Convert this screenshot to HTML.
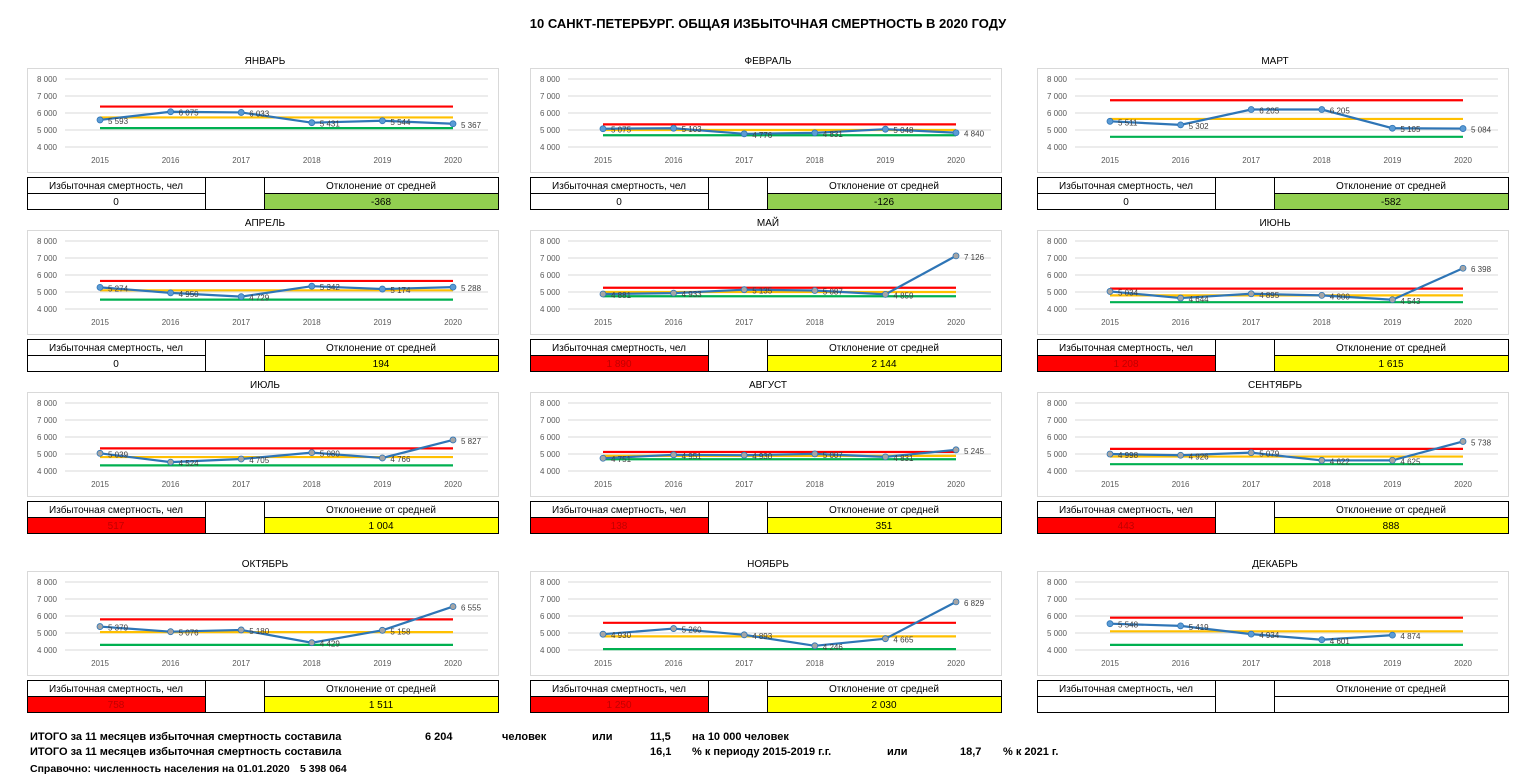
<!DOCTYPE html>
<html><head><meta charset="utf-8">
<style>
html,body{margin:0;padding:0;background:#fff;width:1524px;height:779px;overflow:hidden}
svg{display:block;font-family:"Liberation Sans","DejaVu Sans",sans-serif}
</style></head>
<body>
<svg id="s" width="1524" height="779" xmlns="http://www.w3.org/2000/svg">
<text x="768" y="28" font-size="13" font-weight="bold" text-anchor="middle" fill="#000">10 САНКТ-ПЕТЕРБУРГ. ОБЩАЯ ИЗБЫТОЧНАЯ СМЕРТНОСТЬ  В 2020 ГОДУ</text>
<g font-size="11" font-weight="bold" fill="#000">
<text x="30" y="740">ИТОГО за 11 месяцев избыточная смертность составила</text>
<text x="425" y="740">6 204</text>
<text x="502" y="740">человек</text>
<text x="592" y="740">или</text>
<text x="650" y="740">11,5</text>
<text x="692" y="740">на 10 000 человек</text>
<text x="30" y="755">ИТОГО за 11 месяцев избыточная смертность составила</text>
<text x="650" y="755">16,1</text>
<text x="692" y="755">% к периоду 2015-2019 г.г.</text>
<text x="887" y="755">или</text>
<text x="960" y="755">18,7</text>
<text x="1003" y="755">% к 2021 г.</text>
<text x="30" y="772" font-size="10.5">Справочно: численность населения на 01.01.2020</text>
<text x="300" y="772" font-size="10.5">5 398 064</text>
</g>
</svg>
<script>
const M=[
["ЯНВАРЬ",[5593,6075,6033,5431,5544,5367],6380,5740,5110,"0","#fff","-368","#92d050"],
["ФЕВРАЛЬ",[5075,5103,4776,4831,5048,4840],5330,5000,4690,"0","#fff","-126","#92d050"],
["МАРТ",[5511,5302,6205,6205,5105,5084],6750,5650,4600,"0","#fff","-582","#92d050"],
["АПРЕЛЬ",[5274,4950,4729,5342,5174,5288],5650,5100,4550,"0","#fff","194","#ffff00"],
["МАЙ",[4881,4933,5135,5087,4859,7126],5250,5000,4750,"1 890","#ff0000","2 144","#ffff00"],
["ИЮНЬ",[5034,4644,4895,4800,4543,6398],5200,4800,4400,"1 208","#ff0000","1 615","#ffff00"],
["ИЮЛЬ",[5039,4524,4705,5080,4766,5827],5330,4820,4330,"517","#ff0000","1 004","#ffff00"],
["АВГУСТ",[4751,4951,4930,5007,4831,5245],5120,4890,4690,"138","#ff0000","351","#ffff00"],
["СЕНТЯБРЬ",[4998,4926,5079,4622,4625,5738],5300,4850,4400,"443","#ff0000","888","#ffff00"],
["ОКТЯБРЬ",[5379,5076,5180,4429,5158,6555],5800,5050,4300,"758","#ff0000","1 511","#ffff00"],
["НОЯБРЬ",[4930,5260,4893,4246,4665,6829],5600,4800,4050,"1 250","#ff0000","2 030","#ffff00"],
["ДЕКАБРЬ",[5548,5419,4934,4601,4874],5900,5100,4300,"","#fff","","#fff"]];
const cx=[0,503,1010],ry=[0,162,324,503];
let h="";
const fmt=v=>String(v).replace(/(\d)(\d{3})$/,"$1 $2");
M.forEach((m,i)=>{
 const ox=cx[i%3],oy=ry[Math.floor(i/3)];
 const Y=v=>oy+79+(8000-v)/1000*17, X=k=>ox+100+k*70.6;
 h+=`<text x="${ox+265}" y="${oy+64}" font-size="10" text-anchor="middle" fill="#000">${m[0]}</text>`;
 h+=`<rect x="${ox+27.5}" y="${oy+68.5}" width="471" height="104" fill="#fff" stroke="#d9d9d9"/>`;
 for(let t=4000;t<=8000;t+=1000){h+=`<line x1="${ox+65}" x2="${ox+488}" y1="${Y(t)}" y2="${Y(t)}" stroke="#d9d9d9"/>`;
  h+=`<text x="${ox+57}" y="${Y(t)+3}" font-size="8" text-anchor="end" fill="#595959">${fmt(t)}</text>`;}
 for(let k=0;k<6;k++)h+=`<text x="${X(k)}" y="${oy+163}" font-size="8" text-anchor="middle" fill="#595959">${2015+k}</text>`;
 [[m[2],"#ff0000"],[m[3],"#ffc000"],[m[4],"#00b050"]].forEach(([v,c])=>h+=`<line x1="${X(0)}" x2="${X(5)}" y1="${Y(v)}" y2="${Y(v)}" stroke="${c}" stroke-width="2.2"/>`);
 const d=m[1];
 h+=`<polyline fill="none" stroke="#2e75b6" stroke-width="2.2" points="${d.map((v,k)=>X(k)+","+Y(v)).join(" ")}"/>`;
 d.forEach((v,k)=>{const mc=(i>=4&&i<=10)?"#a5a5a5":"#5b9bd5";
  h+=`<circle cx="${X(k)}" cy="${Y(v)}" r="3" fill="${mc}" stroke="#2e75b6" stroke-width="0.8"/>`;
  h+=`<text x="${X(k)+8}" y="${Y(v)+4}" font-size="8" fill="#404040">${fmt(v)}</text>`;});
 const ty=oy+177;
 h+=`<rect x="${ox+27.5}" y="${ty+16.5}" width="178" height="16" fill="${m[6]}"/>`;
 h+=`<rect x="${ox+264.5}" y="${ty+16.5}" width="234" height="16" fill="${m[8]}"/>`;
 h+=`<g stroke="#000" stroke-width="1" fill="none"><rect x="${ox+27.5}" y="${ty+0.5}" width="471" height="32"/><line x1="${ox+27.5}" x2="${ox+205.5}" y1="${ty+16.5}" y2="${ty+16.5}"/><line x1="${ox+264.5}" x2="${ox+498.5}" y1="${ty+16.5}" y2="${ty+16.5}"/><line x1="${ox+205.5}" x2="${ox+205.5}" y1="${ty}" y2="${ty+33}"/><line x1="${ox+264.5}" x2="${ox+264.5}" y1="${ty}" y2="${ty+33}"/></g>`;
 h+=`<text x="${ox+116}" y="${ty+12}" font-size="10" text-anchor="middle">Избыточная смертность, чел</text>`;
 h+=`<text x="${ox+381}" y="${ty+12}" font-size="10" text-anchor="middle">Отклонение от средней</text>`;
 h+=`<text x="${ox+116}" y="${ty+28}" font-size="10" text-anchor="middle" fill="${m[6]=="#ff0000"?"#c00000":"#000"}">${m[5]}</text>`;
 h+=`<text x="${ox+381}" y="${ty+28}" font-size="10" text-anchor="middle">${m[7]}</text>`;
});
document.getElementById("s").insertAdjacentHTML("beforeend",h);
</script>
</body></html>
